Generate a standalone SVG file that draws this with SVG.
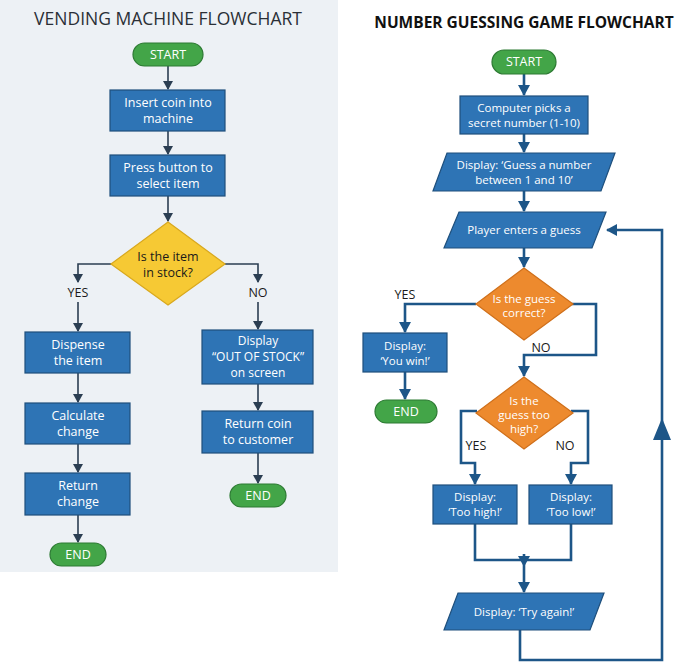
<svg xmlns="http://www.w3.org/2000/svg" width="692" height="665" viewBox="0 0 692 665">
<defs>
<marker id="aL" markerWidth="10" markerHeight="10" refX="8" refY="5" orient="auto" markerUnits="userSpaceOnUse"><path d="M0,0 L9,5 L0,10 Z" fill="#2b3e52"/></marker>
<marker id="aR" markerWidth="12" markerHeight="12" refX="10" refY="6" orient="auto" markerUnits="userSpaceOnUse"><path d="M0,0 L11,6 L0,12 Z" fill="#1d5688"/></marker>
</defs>
<style>
text{font-family:"Open Sans","Noto Sans","Liberation Sans",sans-serif;text-anchor:middle}
.t{fill:#fff;font-size:12.5px}
.lbl{fill:#1a1a1a;font-size:12.5px}
.box{fill:#2e74b5;stroke:#1e4f7c;stroke-width:1.2}
.term{fill:#43a548;stroke:#2d7a33;stroke-width:1.2}
.cL{fill:none;stroke:#2b3e52;stroke-width:1.6}
.cR{fill:none;stroke:#1d5688;stroke-width:2.6}
</style>
<rect x="0" y="0" width="338" height="572" fill="#edf1f5"/>
<text x="168" y="25" style="font-size:17.5px;fill:#2a2f36">VENDING MACHINE FLOWCHART</text>
<text x="524" y="28" style="font-size:15.5px;font-weight:bold;fill:#111">NUMBER GUESSING GAME FLOWCHART</text>
<g id="connectors">
<path class="cL" d="M168,66V89" marker-end="url(#aL)"/>
<path class="cL" d="M168,131V154" marker-end="url(#aL)"/>
<path class="cL" d="M168,196V221" marker-end="url(#aL)"/>
<path class="cL" d="M111,264H78V282" marker-end="url(#aL)"/>
<path class="cL" d="M78,302V331" marker-end="url(#aL)"/>
<path class="cL" d="M225,264H258V282" marker-end="url(#aL)"/>
<path class="cL" d="M258,302V329" marker-end="url(#aL)"/>
<path class="cL" d="M78,373V402" marker-end="url(#aL)"/>
<path class="cL" d="M78,444V472" marker-end="url(#aL)"/>
<path class="cL" d="M78,515V542" marker-end="url(#aL)"/>
<path class="cL" d="M258,384V410" marker-end="url(#aL)"/>
<path class="cL" d="M258,453V483" marker-end="url(#aL)"/>
<path class="cR" d="M524,74V95" marker-end="url(#aR)"/>
<path class="cR" d="M524,134V152" marker-end="url(#aR)"/>
<path class="cR" d="M524,191V211" marker-end="url(#aR)"/>
<path class="cR" d="M524,248V267" marker-end="url(#aR)"/>
<path class="cR" d="M476,304H405V332" marker-end="url(#aR)"/>
<path class="cR" d="M405,372V399" marker-end="url(#aR)"/>
<path class="cR" d="M572,304H596V355H524V376" marker-end="url(#aR)"/>
<path class="cR" d="M477,411H461V463H475V484" marker-end="url(#aR)"/>
<path class="cR" d="M571,411H588V463H571V484" marker-end="url(#aR)"/>
<path class="cR" d="M475,524V560H571V524"/>
<path class="cR" d="M524,554V566" marker-end="url(#aR)"/>
<path class="cR" d="M524,566V592" marker-end="url(#aR)"/>
<path class="cR" d="M520,630V660H662V230H607" marker-end="url(#aR)"/>
<path d="M662,418L671,440H653Z" fill="#1d5688"/>
</g>
<g id="v_start"><rect class="term" x="133" y="43" width="70" height="23" rx="11.5"/><text class="t" x="168" y="59">START</text></g>
<g id="v_insert"><rect class="box" x="110" y="90" width="115" height="41"/><text class="t" x="168" y="107">Insert coin into</text><text class="t" x="168" y="123">machine</text></g>
<g id="v_press"><rect class="box" x="110" y="155" width="115" height="41"/><text class="t" x="168" y="172">Press button to</text><text class="t" x="168" y="188">select item</text></g>
<g id="v_stock"><path d="M168,222L225,264L168,305L111,264Z" fill="#f6c934" stroke="#d9a81d" stroke-width="1.2"/><text x="168" y="261" style="font-size:12.5px;fill:#1a1a1a">Is the item</text><text x="168" y="277" style="font-size:12.5px;fill:#1a1a1a">in stock?</text></g>
<text class="lbl" x="78" y="297">YES</text>
<text class="lbl" x="258" y="297">NO</text>
<g id="v_dispense"><rect class="box" x="25" y="332" width="105" height="41"/><text class="t" x="78" y="349">Dispense</text><text class="t" x="78" y="365">the item</text></g>
<g id="v_calc"><rect class="box" x="25" y="403" width="105" height="41"/><text class="t" x="78" y="420">Calculate</text><text class="t" x="78" y="436">change</text></g>
<g id="v_return"><rect class="box" x="25" y="473" width="105" height="42"/><text class="t" x="78" y="490">Return</text><text class="t" x="78" y="506">change</text></g>
<g id="v_end1"><rect class="term" x="50" y="543" width="56" height="23" rx="11.5"/><text class="t" x="78" y="559">END</text></g>
<g id="v_oos"><rect class="box" x="202" y="330" width="111" height="54"/><text class="t" x="258" y="345" style="font-size:12px">Display</text><text class="t" x="258" y="361" style="font-size:12px">“OUT OF STOCK”</text><text class="t" x="258" y="377" style="font-size:12px">on screen</text></g>
<g id="v_refund"><rect class="box" x="202" y="411" width="111" height="42"/><text class="t" x="258" y="428">Return coin</text><text class="t" x="258" y="444">to customer</text></g>
<g id="v_end2"><rect class="term" x="230" y="484" width="56" height="23" rx="11.5"/><text class="t" x="258" y="500">END</text></g>

<g id="n_start"><rect class="term" x="492" y="50" width="64" height="24" rx="12"/><text class="t" x="524" y="66">START</text></g>
<g id="n_pick"><rect class="box" x="460" y="96" width="128" height="38"/><text class="t" x="524" y="112" style="font-size:11.5px">Computer picks a</text><text class="t" x="524" y="127" style="font-size:11.5px">secret number (1-10)</text></g>
<g id="n_prompt"><path class="box" d="M447,153H615L601,191H433Z"/><text class="t" x="524" y="169" style="font-size:11.5px">Display: ‘Guess a number</text><text class="t" x="524" y="184" style="font-size:11.5px">between 1 and 10’</text></g>
<g id="n_guess"><path class="box" d="M459,212H606L592,248H444Z"/><text class="t" x="524" y="234" style="font-size:11.5px">Player enters a guess</text></g>
<g id="n_correct"><path d="M524,268L573,304L524,340L476,304Z" fill="#ed8a2e" stroke="#cf6f1a" stroke-width="1.2"/><text class="t" x="524" y="303" style="font-size:11.5px">Is the guess</text><text class="t" x="524" y="317" style="font-size:11.5px">correct?</text></g>
<text class="lbl" x="405" y="299">YES</text>
<text class="lbl" x="541" y="352">NO</text>
<g id="n_win"><rect class="box" x="363" y="333" width="84" height="39"/><text class="t" x="405" y="350" style="font-size:11.5px">Display:</text><text class="t" x="405" y="365" style="font-size:11.5px">‘You win!’</text></g>
<g id="n_end"><rect class="term" x="375" y="400" width="62" height="23" rx="11.5"/><text class="t" x="406" y="416">END</text></g>
<g id="n_high"><path d="M524,377L573,413L524,449L476,413Z" fill="#ed8a2e" stroke="#cf6f1a" stroke-width="1.2"/><text class="t" x="524" y="405" style="font-size:11.5px">Is the</text><text class="t" x="524" y="419" style="font-size:11.5px">guess too</text><text class="t" x="524" y="433" style="font-size:11.5px">high?</text></g>
<text class="lbl" x="476" y="450">YES</text>
<text class="lbl" x="565" y="450">NO</text>
<g id="n_toohigh"><rect class="box" x="433" y="485" width="84" height="39"/><text class="t" x="475" y="501" style="font-size:11.5px">Display:</text><text class="t" x="475" y="516" style="font-size:11.5px">‘Too high!’</text></g>
<g id="n_toolow"><rect class="box" x="529" y="485" width="83" height="39"/><text class="t" x="571" y="501" style="font-size:11.5px">Display:</text><text class="t" x="571" y="516" style="font-size:11.5px">‘Too low!’</text></g>
<g id="n_try"><path class="box" d="M458,593H604L590,630H444Z"/><text class="t" x="524" y="616" style="font-size:11.5px">Display: ‘Try again!’</text></g>
</svg>
